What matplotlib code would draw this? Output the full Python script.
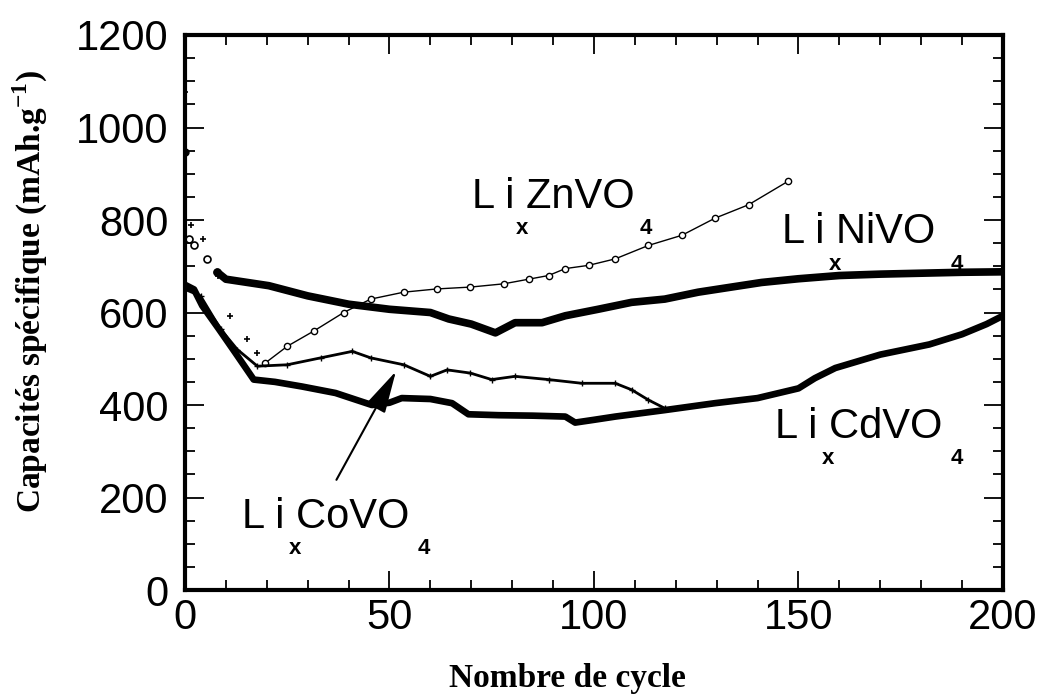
"""
Capacité spécifique vs nombre de cycles pour LixMVO4 (M = Zn, Ni, Co, Cd).
"""

import matplotlib
matplotlib.use("Agg")
import matplotlib.pyplot as plt
from matplotlib.ticker import MultipleLocator


# Data (cycle, mAh/g)
zn_x = [0, 1.5, 4.5, 8, 11.1, 15.1, 17.7, 19.5, 25, 31.5, 38.8, 45.4, 53.5, 61.6,
        69.8, 77.9, 84, 88.9, 93, 98.7, 105.2, 113.3, 121.5, 129.6, 137.8, 147.5]
zn_y = [1077, 790, 760, 680, 593, 542, 513, 490, 527, 560, 600, 629, 644, 651,
        655, 662, 672, 680, 695, 702, 716, 745, 767, 804, 833, 884]

ni_x = [0, 1, 2.2, 5.5, 7.9, 10, 20.5, 30, 40, 50, 60, 64.5, 70, 75.9, 80.7,
        87.3, 93, 101, 109.2, 117.3, 125.5, 133.6, 141, 150, 160, 170, 180, 190, 200]
ni_y = [947, 760, 745, 716, 687, 672, 658, 636, 618, 607, 600, 586, 575, 556, 578,
        578, 593, 607, 622, 629, 644, 655, 665, 673, 680, 683, 685, 687, 688]

co_x = [0, 3.8, 8.7, 12.8, 17.7, 25, 33.2, 40.9, 45.4, 53.5, 60, 64.1, 69.8, 75,
        80.7, 88.9, 97, 105.2, 109.2, 113.3, 117.3]
co_y = [650, 636, 564, 520, 484, 487, 502, 516, 502, 487, 462, 476, 469, 455,
        462, 455, 447, 447, 433, 411, 393]

cd_x = [0, 2.2, 4.2, 8.3, 12.3, 16.8, 22, 28.6, 36.8, 45.7, 50, 53, 60, 65.3, 69.3,
        76.7, 85, 93, 95.4, 100, 105.2, 117.3, 129.6, 140, 150, 154, 159, 170, 182,
        190, 196, 200]
cd_y = [660, 650, 615, 564, 513, 455, 450, 440, 426, 400, 405, 415, 413, 404, 380,
        378, 377, 375, 362, 368, 375, 389, 404, 415, 436, 458, 480, 509, 531,
        553, 575, 593]

x_ticks = [0, 50, 100, 150, 200]
y_ticks = [0, 200, 400, 600, 800, 1000, 1200]

# Compound labels: main text position, subscript x (under the i), subscript 4
comp_names = ['L i ZnVO', 'L i NiVO', 'L i CdVO', 'L i CoVO']
comp_main = [(70.2, 826), (146.0, 750), (144.3, 329), (13.9, 134)]
comp_sub_x = [(82.4, 769), (158.9, 693), (157.2, 272), (26.9, 77)]
comp_sub_4 = [(111.2, 769), (187.3, 693), (187.3, 272), (57.0, 77)]

plt.rcParams['mathtext.fontset'] = 'custom'
plt.rcParams['mathtext.rm'] = 'Liberation Serif'
plt.rcParams['mathtext.bf'] = 'Liberation Serif:bold'


fig = plt.figure(figsize=(10.44, 7.0), dpi=100)
ax = fig.add_axes([0.1772, 0.1571, 0.7835, 0.7929])

# LixZnVO4 : + at start, then small open circles
ax.plot(zn_x[:7], zn_y[:7], ls='none', marker='+', ms=5, mew=1.2, color='k')
ax.plot(zn_x[7:], zn_y[7:], color='k', lw=1.0, marker='o', ms=4.5,
        mfc='white', mec='k', mew=1.0)

# LixNiVO4 : first cycle dot, circles, then thick line
ax.plot(ni_x[:1], ni_y[:1], ls='none', marker='o', ms=5, color='k')
ax.plot(ni_x[1:5], ni_y[1:5], ls='none', marker='o', ms=5,
        mfc='white', mec='k', mew=1.2)
ax.plot(ni_x[4:], ni_y[4:], color='k', lw=5.5, solid_capstyle='round')

# LixCoVO4 : thin line with crosses
ax.plot(co_x, co_y, color='k', lw=2.0, marker='+', ms=4, mew=1)

# LixCdVO4 : thick line
ax.plot(cd_x, cd_y, color='k', lw=4.8, solid_capstyle='round')

ax.annotate('', xy=(51.9, 478), xytext=(36.7, 233),
            arrowprops=dict(arrowstyle='-|>,head_length=1.2,head_width=0.3',
                            color='k', lw=1.5, mutation_scale=22))

for name, (mx, my), (sx, sy), (fx, fy) in zip(comp_names, comp_main,
                                              comp_sub_x, comp_sub_4):
    ax.text(mx, my, name, ha='left', va='baseline', family='Liberation Sans',
            fontsize=30, color='k')
    ax.text(sx, sy, 'x', ha='center', va='baseline', family='Liberation Sans',
            fontsize=16, fontweight='bold')
    ax.text(fx, fy, '4', ha='left', va='baseline', family='Liberation Sans',
            fontsize=16, fontweight='bold')

ax.set_xlim(0, 200)
ax.set_ylim(0, 1200)
ax.set_xticks(x_ticks)
ax.set_yticks(y_ticks)
ax.xaxis.set_minor_locator(MultipleLocator(10))
ax.yaxis.set_minor_locator(MultipleLocator(50))
ax.tick_params(which='both', direction='in', top=True, right=True, width=1.3)
ax.tick_params(which='major', length=14)
ax.tick_params(which='minor', length=7)
ax.tick_params(axis='y', which='major', pad=12)
ax.tick_params(axis='x', which='major', pad=6)
for lab in ax.get_xticklabels() + ax.get_yticklabels():
    lab.set_fontfamily('Liberation Sans')
    lab.set_fontsize(30)
for sp in ax.spines.values():
    sp.set_linewidth(3)

fig.text(0.029, 0.584, r'Capacités spécifique (mAh.g$^{\mathbf{-1}}$)',
         rotation=90, ha='center', va='center', family='Liberation Serif',
         fontweight='bold', fontsize=24)
fig.text(0.544, 0.031, 'Nombre de cycle', ha='center', va='center',
         family='Liberation Serif', fontweight='bold', fontsize=24)

fig.savefig('out.png', dpi=100)
